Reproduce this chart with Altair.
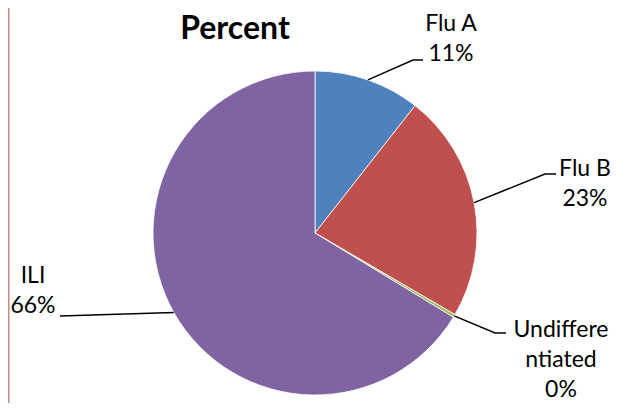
import math
import textwrap
import altair as alt
import pandas as pd

# ---- data ----
categories = ["Flu A", "Flu B", "Undifferentiated", "ILI"]
values = [10.6, 22.8, 0.3, 66.3]
colors = ["#4F81BD", "#C0504D", "#9BBB59", "#8064A2"]
title_text = "Percent"

# ---- layout (chart pixels) ----
W, H = 605, 395
CX, CY = 307, 225          # pie centre inside the chart
R = 162                    # pie radius
FONT = "Lato"
FS, LH = 23, 30
# label anchor (first-line baseline) and leader elbow/end, relative to the centre
label_pos = {
    "Flu A": (136, -202),
    "Flu B": (270, -57),
    "Undifferentiated": (246, 104),
    "ILI": (-282, 50),
}
leader_pts = {
    "Flu A": [(98, -173), (108, -173)],
    "Flu B": [(230, -59), (241, -59)],
    "Undifferentiated": [(180, 100), (191, 100)],
    "ILI": [(-255, 83), (-255, 83)],
}

total = sum(values)
pie = pd.DataFrame({"category": categories, "value": values, "idx": range(len(categories))})

cum = 0.0
lab_rows, lead_rows = [], []
for c, v in zip(categories, values):
    mid = (cum + v / 2) / total * 2 * math.pi
    cum += v
    pct = f"{round(v / total * 100):.0f}%"
    text = "\n".join(textwrap.wrap(c, 9) + [pct])
    lx, ly = label_pos[c]
    lab_rows.append({"category": c, "x": lx, "y": ly, "text": text})
    pts = [(R * math.sin(mid), -R * math.cos(mid))] + leader_pts[c]
    for i, (px, py) in enumerate(pts):
        lead_rows.append({"category": c, "pt": i, "x": px, "y": py})
labels = pd.DataFrame(lab_rows)
leaders = pd.DataFrame(lead_rows)

xs = alt.Scale(domain=[-CX, W - CX], nice=False, zero=False)
ys = alt.Scale(domain=[-CY, H - CY], nice=False, zero=False, reverse=True)

arcs = alt.Chart(pie).mark_arc(radius=R, stroke="white", strokeWidth=0.8).encode(
    theta=alt.Theta("value:Q", stack=True),
    order=alt.Order("idx:Q"),
    color=alt.Color("category:N", scale=alt.Scale(domain=categories, range=colors), legend=None),
    x=alt.X(datum=0, type="quantitative", scale=xs, axis=None),
    y=alt.Y(datum=0, type="quantitative", scale=ys, axis=None),
)

lines = alt.Chart(leaders).mark_line(color="black", strokeWidth=1.5).encode(
    x=alt.X("x:Q", scale=xs, axis=None),
    y=alt.Y("y:Q", scale=ys, axis=None),
    detail="category:N",
    order="pt:Q",
)

texts = alt.Chart(labels).mark_text(
    font=FONT, fontSize=FS, lineHeight=LH, lineBreak="\n", align="center",
    baseline="alphabetic", color="black",
).encode(
    x=alt.X("x:Q", scale=xs, axis=None),
    y=alt.Y("y:Q", scale=ys, axis=None),
    text="text:N",
)

title = alt.Chart(pd.DataFrame({"t": [title_text]})).mark_text(
    font=FONT, fontSize=32, fontWeight="bold", align="center", baseline="top", color="black",
).encode(x=alt.value(227), y=alt.value(6), text="t:N")

border = alt.Chart(pd.DataFrame({"a": [0]})).mark_rule(color="#c48a8a", strokeWidth=1.5).encode(
    x=alt.value(0.75), y=alt.value(0), y2=alt.value(H)
)

chart = alt.layer(border, arcs, lines, texts, title).properties(
    width=W, height=H, padding=0, autosize=alt.AutoSizeParams(type="none")
).configure_view(stroke=None)

chart.save("out.html", embed_options={"renderer": "svg", "actions": False})
